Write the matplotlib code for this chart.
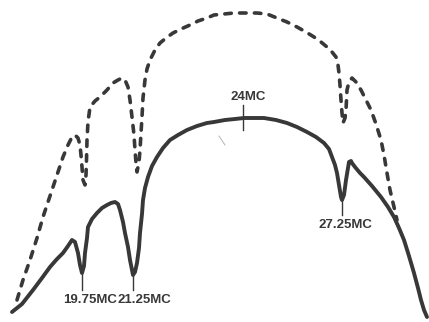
import matplotlib.pyplot as plt

# traced response curves (horizontal position, height from top of sheet)
solid_x = [12, 22, 33, 42, 50, 57, 63, 68, 72, 75, 78, 80, 82, 84, 85, 87, 88, 92, 97, 102, 107, 111, 115, 118,
           120, 123, 125, 128, 130, 132, 133, 135, 137, 139, 140, 142, 143, 145, 148, 152, 157, 163, 170, 178,
           187, 197, 207, 214, 225, 235, 244, 254, 264, 276, 287, 297, 307, 316, 324, 329, 332, 335, 337, 339,
           341, 342, 344, 346, 348, 349, 351, 352, 355, 360, 364, 372, 381, 388, 394, 399, 404, 409, 414, 418,
           421, 424, 427]
solid_y = [312, 304, 290, 278, 267, 259, 253, 246, 240, 242, 253, 265, 273, 266, 253, 238, 227, 219, 213, 208,
           205, 203, 202, 204, 210, 222, 233, 247, 260, 270, 275, 272, 263, 248, 233, 214, 200, 188, 177, 166,
           157, 148, 140, 135, 130, 126, 123, 122, 120, 119, 118, 118, 118, 120, 123, 127, 132, 137, 143, 149,
           157, 165, 173, 185, 197, 200, 195, 180, 168, 162, 161, 163, 167, 173, 177, 186, 197, 207, 217, 228,
           240, 256, 273, 288, 300, 310, 317]

dash_x = [17, 23, 30, 37, 43, 48, 53, 58, 63, 68, 72, 75, 78, 80, 81, 82, 83, 85, 86, 86.5, 87, 88, 90, 95, 100,
          107, 113, 118, 122, 125, 128, 130, 132, 134, 135, 136, 137, 139, 140, 141, 142, 143, 145, 147, 150,
          155, 160, 166, 173, 181, 190, 198, 207, 214, 224, 234, 246, 257, 267, 277, 287, 297, 306, 314, 321,
          327, 332, 336, 338, 339, 340, 341, 342, 343, 345, 346, 347, 349, 352, 356, 361, 366, 371, 376, 381,
          384, 387, 390, 394, 397]
dash_y = [300, 280, 260, 238, 217, 202, 187, 172, 157, 145, 137, 135, 138, 145, 155, 167, 180, 185, 175, 160,
          140, 122, 107, 101, 97, 90, 83, 80, 78, 80, 87, 100, 117, 135, 150, 163, 172, 162, 150, 133, 117,
          98, 80, 69, 60, 50, 43, 38, 33, 29, 25, 21, 18, 15, 14, 13, 13, 13, 14, 18, 22, 27, 32, 37, 42, 47,
          52, 57, 65, 73, 85, 100, 113, 123, 118, 110, 90, 82, 78, 82, 90, 100, 110, 124, 140, 155, 173, 190,
          207, 220]

# frequency markers
labels = ['19.75MC', '21.25MC', '24MC', '27.25MC']
tick_x = [82, 133, 243, 342]
tick_top = [273, 275, 105, 200]
tick_bot = [290, 290, 130, 215]
label_x = [90, 144, 248, 345]
label_y = [300, 300, 97, 225]

ink = '#383838'

fig = plt.figure(figsize=(4.29, 3.22), dpi=100)
ax = fig.add_axes([0, 0, 1, 1])
ax.set_xlim(0, 429)
ax.set_ylim(322, 0)
ax.axis('off')

ax.plot(solid_x, solid_y, color=ink, lw=2.8, solid_capstyle='round', solid_joinstyle='round')
ax.plot(dash_x, dash_y, color=ink, lw=2.6, linestyle=(0, (1.8, 2.3)), dash_capstyle='round')

for i in range(len(labels)):
    ax.plot([tick_x[i], tick_x[i]], [tick_top[i], tick_bot[i]], color=ink, lw=1.0)
    ax.text(label_x[i], label_y[i], labels[i], ha='center', va='center', color=ink,
            fontsize=9.5, fontweight='bold', family=['Liberation Sans', 'DejaVu Sans'])

# faint scan mark
ax.plot([219, 225], [136, 145], color='#aaaaaa', lw=0.6)

fig.savefig('out.png', dpi=100)
